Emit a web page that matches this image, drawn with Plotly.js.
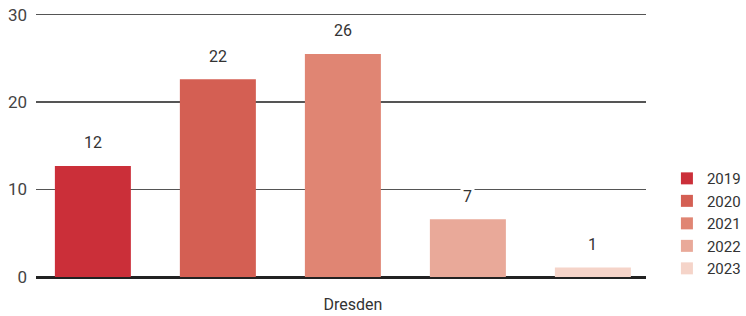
<!DOCTYPE html>
<html>
<head>
<meta charset="utf-8">
<script src="https://cdn.plot.ly/plotly-3.0.1.min.js"></script>
<style>html,body{margin:0;padding:0;background:#fff;}#chart{width:746px;height:316px;}</style>
</head>
<body>
<div id="chart"></div>
<script>
var categories = ['Dresden'];
var years = ['2019', '2020', '2021', '2022', '2023'];
var values = [12.7, 22.6, 25.5, 6.6, 1.1];
var labels = ['12', '22', '26', '7', '1'];
var colors = ['#cb2f39', '#d45f53', '#e08573', '#e9a999', '#f5d4c9'];
var yTicks = [0, 10, 20, 30];

var n = years.length;
var traces = years.map(function (yr, i) {
  return {
    type: 'bar',
    name: yr,
    x: categories,
    y: [values[i]],
    marker: {color: colors[i]},
    hoverinfo: 'none'
  };
});

var annotations = years.map(function (yr, i) {
  return {
    x: (i - (n - 1) / 2) / n,
    y: values[i],
    xref: 'x', yref: 'y',
    text: labels[i],
    showarrow: false,
    yanchor: 'middle',
    yshift: 23,
    bgcolor: '#ffffff',
    borderpad: 2,
    font: {family: 'Roboto, sans-serif', size: 16, color: '#333333'}
  };
});

var layout = {
  width: 746, height: 316,
  margin: {l: 36, r: 100, t: 12.4, b: 38.7, pad: 0, autoexpand: false},
  paper_bgcolor: '#ffffff', plot_bgcolor: '#ffffff',
  font: {family: 'Roboto, sans-serif', size: 16, color: '#333333'},
  barmode: 'group',
  bargap: 0,
  bargroupgap: 0.392,
  showlegend: true,
  legend: {
    xref: 'container', yref: 'container',
    x: 0.894, xanchor: 'left',
    y: 0.487, yanchor: 'top',
    traceorder: 'normal',
    font: {family: 'Roboto, sans-serif', size: 15, color: '#333333'},
    itemclick: false
  },
  xaxis: {
    type: 'category',
    range: [-0.491, 0.485],
    showgrid: false,
    showline: false,
    zeroline: false,
    ticks: '',
    ticklabelstandoff: 16,
    ticklabelshift: 10,
    tickfont: {family: 'Roboto, sans-serif', size: 16, color: '#333333'},
    fixedrange: true
  },
  yaxis: {
    range: [0, 30.3],
    tickvals: yTicks,
    ticktext: yTicks.map(String),
    showgrid: true,
    gridcolor: '#555555',
    gridwidth: 1.5,
    zeroline: true,
    zerolinecolor: '#222222',
    zerolinewidth: 3,
    showline: false,
    ticks: '',
    ticklabelstandoff: 8,
    tickfont: {family: 'Roboto, sans-serif', size: 17, color: '#444444'},
    fixedrange: true
  },
  annotations: annotations
};

Plotly.newPlot('chart', traces, layout, {displayModeBar: false, staticPlot: true});
</script>
</body>
</html>
